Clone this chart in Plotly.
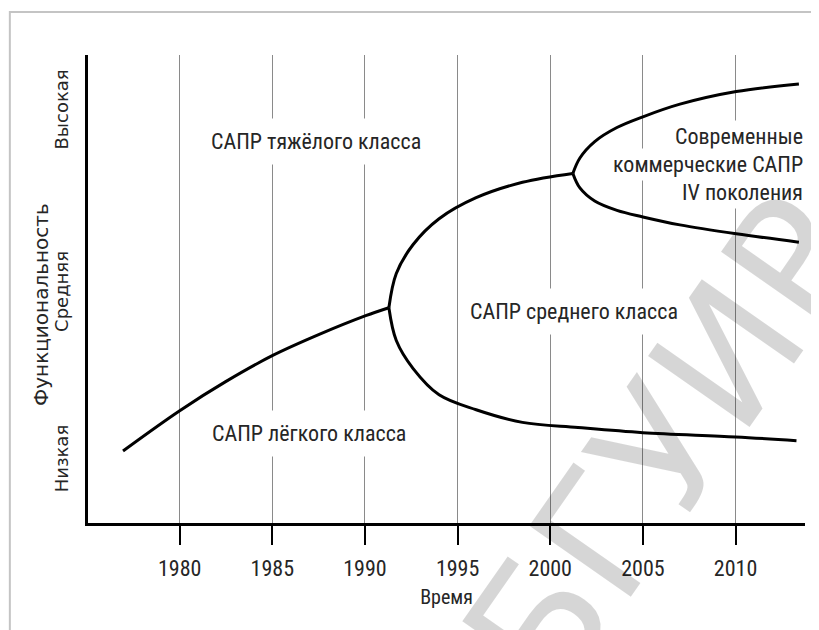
import plotly.graph_objects as go

# ---- data (years vs. functionality level 0..10) ----
trunk_years = [1976.94, 1980.0, 1982.48, 1985.02, 1987.53, 1990.04, 1991.29]
trunk_level = [1.54, 2.40, 3.02, 3.58, 4.03, 4.43, 4.60]

heavy_years = [1991.29, 1991.69, 1992.6, 1994.0, 1996.0, 1998.5, 2001.22]
heavy_level = [4.60, 5.33, 5.95, 6.50, 6.95, 7.28, 7.47]

light_years = [1991.29, 1991.69, 1992.6, 1994.0, 1996.0, 1998.5, 2001.5, 2005.0, 2010.0, 2013.29]
light_level = [4.60, 3.90, 3.30, 2.74, 2.42, 2.15, 2.04, 1.93, 1.84, 1.76]

gen4_up_years = [2001.22, 2001.6, 2002.4, 2003.6, 2005.0, 2007.0, 2010.04, 2013.42]
gen4_up_level = [7.47, 7.80, 8.15, 8.45, 8.68, 8.95, 9.22, 9.38]

gen4_lo_years = [2001.22, 2001.6, 2002.4, 2003.6, 2005.0, 2007.0, 2010.04, 2013.42]
gen4_lo_level = [7.47, 7.16, 6.88, 6.68, 6.54, 6.37, 6.18, 6.00]

x_ticks = [1980, 1985, 1990, 1995, 2000, 2005, 2010]
y_tick_vals = [1.32, 4.89, 8.78]
y_tick_text = ["Низкая", "Средняя", "Высокая"]

labels = [
    ("САПР тяжёлого класса", 1987.38, 8.16),
    ("САПР лёгкого класса", 1986.98, 1.92),
    ("САПР среднего класса", 2001.3, 4.51),
]
gen4_lines = ["Современные", "коммерческие САПР", "IV поколения"]
gen4_x = 2013.7
gen4_y = [8.25, 7.65, 7.07]

NARROW = "Liberation Sans Narrow, Arial Narrow, Roboto Condensed, Roboto, sans-serif"

fig = go.Figure()
line_style = dict(color="black", width=3, shape="spline", smoothing=1.0)
for xs, ys in [(trunk_years, trunk_level), (heavy_years, heavy_level),
               (light_years, light_level), (gen4_up_years, gen4_up_level),
               (gen4_lo_years, gen4_lo_level)]:
    fig.add_trace(go.Scatter(x=xs, y=ys, mode="lines", line=line_style,
                             hoverinfo="skip", showlegend=False))

annotations = []
for text, x, y in labels:
    annotations.append(dict(x=x, y=y, xref="x", yref="y", text=text, showarrow=False,
                            font=dict(family=NARROW, size=22, color="#262626"),
                            bgcolor="white", borderpad=10, xanchor="center"))
for text, y in zip(gen4_lines, gen4_y):
    annotations.append(dict(x=gen4_x, y=y, xref="x", yref="y", text=text, showarrow=False,
                            font=dict(family=NARROW, size=22, color="#262626"),
                            bgcolor="white", borderpad=3, xanchor="right", xshift=3))
# y-axis title
annotations.append(dict(x=-0.0655, y=0.466, xref="paper", yref="paper",
                        text="Функциональность", showarrow=False, textangle=-90,
                        xanchor="center", yanchor="middle",
                        font=dict(family="DejaVu Sans", size=20, color="#262626")))
# watermark
annotations.append(dict(x=0.805, y=0.166, xref="paper", yref="paper", text="БГУИР",
                        showarrow=False, textangle=-55, xanchor="center", yanchor="middle",
                        font=dict(family="DejaVu Sans", size=170, color="rgba(0,0,0,0.16)")))

fig.update_layout(
    width=819, height=630,
    margin=dict(l=80, r=22, t=47, b=115),
    paper_bgcolor="white", plot_bgcolor="white",
    showlegend=False,
    annotations=annotations,
    shapes=[dict(type="rect", xref="paper", yref="paper", x0=-0.109, x1=1.2,
                 y0=-0.4, y1=1.092, line=dict(color="#c4c4c4", width=2),
                 layer="below")],
    xaxis=dict(range=[1975.05, 2013.75], tickvals=x_ticks, automargin=False,
               showgrid=True, gridcolor="#8a8a8a", gridwidth=1,
               showline=True, linecolor="black", linewidth=2.5,
               ticks="outside", ticklen=19, tickwidth=2, tickcolor="black",
               zeroline=False, ticklabelstandoff=5,
               tickfont=dict(family=NARROW, size=22, color="#262626"),
               title=dict(text="Время", standoff=10,
                          font=dict(family=NARROW, size=20, color="#262626"))),
    yaxis=dict(range=[0, 10], tickvals=y_tick_vals, ticktext=y_tick_text, automargin=False,
               tickangle=-90, showgrid=False, zeroline=False,
               showline=True, linecolor="black", linewidth=2.5, ticks="",
               ticklabelstandoff=10,
               tickfont=dict(family="DejaVu Sans", size=18, color="#262626")),
)

fig.write_html("out.html")
